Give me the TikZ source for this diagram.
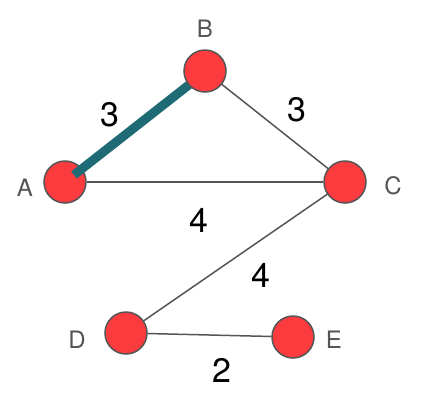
\documentclass[tikz,border=0pt]{standalone}
\usepackage{fontspec}
\setmainfont{TeX Gyre Heros}
\definecolor{nodered}{HTML}{FC3B3F}
\definecolor{edgegrey}{HTML}{555555}
\definecolor{teal2}{HTML}{1F6B75}
\pgfdeclarelayer{background}
\pgfdeclarelayer{foreground}
\pgfsetlayers{background,main,foreground}
\begin{document}
\begin{tikzpicture}[x=1pt,y=-1pt,
  vertex/.style={circle,draw=edgegrey,line width=1.5pt,fill=nodered,minimum size=42pt,inner sep=0pt},
  vlabel/.style={text=edgegrey,font=\fontsize{24}{24}\selectfont,inner sep=0pt},
  weight/.style={text=black,font=\fontsize{34}{34}\selectfont,inner sep=0pt},
  edge/.style={draw=edgegrey,line width=1.5pt},
  heavy/.style={draw=teal2,line width=9pt}]
\begin{pgfonlayer}{background}
\fill[white] (0,0) rectangle (426,408);
\end{pgfonlayer}
\useasboundingbox (0,0) rectangle (426,408);
\node[vertex] (A) at (65,182) {};
\node[vertex] (C) at (345,182) {};
\node[vertex] (D) at (126,333) {};
\node[vertex] (E) at (293,337) {};
\begin{pgfonlayer}{foreground}
\node[vertex] (B) at (205,71) {};
\end{pgfonlayer}
\begin{pgfonlayer}{background}
\draw[edge] (A) -- (C);
\draw[edge] (B) -- (C);
\draw[edge] (C) -- (D);
\draw[edge] (D) -- (E);
\end{pgfonlayer}
\path (A.center) ++(9,-7) coordinate (a1);
\path (B.center) ++(-15,13) coordinate (b1);
\draw[heavy] (a1) -- (b1);
\node[vlabel] (lA) at (25,188) {A};
\node[vlabel] (lB) at (205,29) {B};
\node[vlabel] (lC) at (393,186) {C};
\node[vlabel] (lD) at (77,340) {D};
\node[vlabel] (lE) at (334,340) {E};
\node[weight] (w1) at (110,115) {3};
\node[weight] (w2) at (297,110) {3};
\node[weight] (w3) at (199,220) {4};
\node[weight] (w4) at (261,275) {4};
\node[weight] (w5) at (222,370) {2};
\end{tikzpicture}
\end{document}
